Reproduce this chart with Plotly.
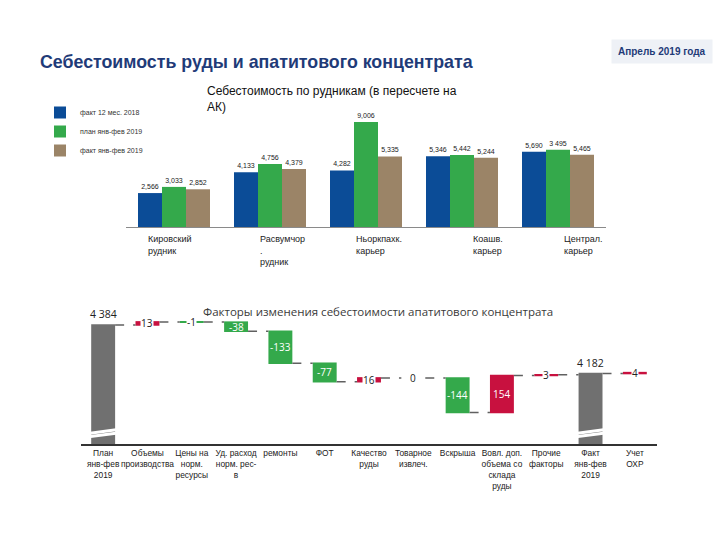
import plotly.graph_objects as go

# ---------------- top chart data ----------------
mines = ["Кировский рудник", "Расвумчор. рудник", "Ньоркпахк. карьер", "Коашв. карьер", "Централ. карьер"]
mine_labels = ["Кировский<br>рудник", "Расвумчор<br>.<br>рудник", "Ньоркпахк.<br>карьер", "Коашв.<br>карьер", "Централ.<br>карьер"]
series_names = ["факт 12 мес. 2018", "план янв-фев 2019", "факт янв-фев 2019"]
fact_2018 = [2566, 4133, 4282, 5346, 5690]
plan_2019 = [3033, 4756, 7950, 5442, 5850]
fact_2019 = [2852, 4379, 5335, 5244, 5465]
fact_2018_text = ["2,566", "4,133", "4,282", "5,346", "5,690"]
plan_2019_text = ["3,033", "4,756", "9,006", "5,442", "3 495"]
fact_2019_text = ["2,852", "4,379", "5,335", "5,244", "5,465"]

# ---------------- waterfall data ----------------
factors = ["План<br>янв-фев<br>2019", "Объемы<br>производства", "Цены на<br>норм.<br>ресурсы",
           "Уд. расход<br>норм. рес-<br>в", "ремонты", "ФОТ", "Качество<br>руды",
           "Товарное<br>извлеч.", "Вскрыша", "Вовл. доп.<br>объема со<br>склада<br>руды",
           "Прочие<br>факторы", "Факт<br>янв-фев<br>2019", "Учет<br>ОХР"]
measures = ["absolute", "relative", "relative", "relative", "relative", "relative", "relative",
            "relative", "relative", "relative", "relative", "absolute", "relative"]
factor_values = [4384, 13, -1, -38, -133, -77, 16, 0, -144, 154, 3, 4182, 4]

BLUE = "#0b4c97"
GREEN = "#34a94b"
BROWN = "#9b8467"

fig = go.Figure()

for name, vals, txt, col in zip(series_names, [fact_2018, plan_2019, fact_2019],
                                [fact_2018_text, plan_2019_text, fact_2019_text],
                                [BLUE, GREEN, BROWN]):
    fig.add_trace(go.Bar(
        x=mines, y=vals, name=name, marker=dict(color=col, line=dict(width=0)),
        text=txt, textposition="outside", textfont=dict(size=7, color="#222", family="Liberation Sans"),
        cliponaxis=False, xaxis="x", yaxis="y",
    ))

fig.add_trace(go.Waterfall(
    x=list(range(len(factors))), y=factor_values, measure=measures,
    xaxis="x2", yaxis="y2", showlegend=False, textposition="none",
    increasing=dict(marker=dict(color="#c8113f")),
    decreasing=dict(marker=dict(color=GREEN)),
    totals=dict(marker=dict(color="#707070")),
    connector=dict(line=dict(color="#606060", width=1.5, dash="dash")),
))

annotations = []
shapes = []

# waterfall labels derived from the data
level = 0
for i, (m, v) in enumerate(zip(measures, factor_values)):
    if m == "absolute":
        start, end = 0, v
        level = v
        annotations.append(dict(x=i, y=end, xref="x2", yref="y2", text=f"{v:,}".replace(",", " "),
                                showarrow=False, yanchor="bottom", yshift=2,
                                font=dict(size=10.5, color="#222", family="Open Sans")))
        # axis-break marks on the truncated total bars
        for dy in (0, 14):
            shapes.append(dict(type="line", xref="x2", yref="y2", x0=i - 0.42, x1=i + 0.42,
                               y0=3917 + dy, y1=3937 + dy, line=dict(color="white", width=3)))
    else:
        start, end = level, level + v
        level = end
        mid = (start + end) / 2
        if abs(v) >= 30:
            annotations.append(dict(x=i, y=mid, xref="x2", yref="y2", text=f"{v}", showarrow=False,
                                    font=dict(size=10, color="white", family="Open Sans")))
        else:
            annotations.append(dict(x=i, y=mid, xref="x2", yref="y2", text=f"{v}", showarrow=False,
                                    bgcolor="white", borderpad=0,
                                    font=dict(size=10, color="#222", family="Open Sans")))

# top chart category labels (left-aligned under groups)
label_shift = [-28, -12, -12, 9, 4]
for m, lab, sh in zip(mines, mine_labels, label_shift):
    annotations.append(dict(x=m, y=0, xref="x", yref="y", text=lab, showarrow=False,
                            xanchor="left", yanchor="top", align="left", xshift=sh, yshift=-5,
                            font=dict(size=9, color="#222", family="Liberation Sans")))

# titles
annotations += [
    dict(x=38 / 720, y=1 - 62 / 540, xref="paper", yref="paper", xanchor="left", yanchor="middle",
         text="<b>Себестоимость руды и апатитового концентрата</b>", showarrow=False,
         font=dict(size=17.8, color="#1f3b78", family="Liberation Sans")),
    dict(x=662 / 720, y=1 - 51 / 540, xref="paper", yref="paper", xanchor="center", yanchor="middle",
         text="<b>Апрель 2019 года</b>", showarrow=False, bgcolor="#eef1f6", borderpad=6,
         font=dict(size=10, color="#1f3b78", family="Liberation Sans")),
    dict(x=205 / 720, y=1 - 82 / 540, xref="paper", yref="paper", xanchor="left", yanchor="top",
         text="Себестоимость по рудникам (в пересчете на<br>АК)", showarrow=False, align="left",
         font=dict(size=12, color="#111", family="Liberation Sans")),
    dict(x=378 / 720, y=1 - 311 / 540, xref="paper", yref="paper", xanchor="center", yanchor="middle",
         text="Факторы изменения себестоимости апатитового концентрата", showarrow=False,
         font=dict(size=11.5, color="#3a3a3a", family="Open Sans")),
]

fig.update_layout(
    width=720, height=540, margin=dict(l=0, r=0, t=0, b=0),
    paper_bgcolor="white", plot_bgcolor="white",
    barmode="group", bargap=0.25, bargroupgap=0,
    waterfallgap=0.46,
    showlegend=True,
    legend=dict(x=40 / 720, y=1 - 98 / 540, xanchor="left", yanchor="top",
                font=dict(size=7, color="#333", family="Liberation Sans"),
                itemwidth=30, tracegroupgap=0, bgcolor="rgba(0,0,0,0)"),
    xaxis=dict(domain=[126 / 720, 606 / 720], anchor="y", showticklabels=False, ticks="",
               showline=True, linecolor="#8a8a8a", linewidth=1, showgrid=False),
    yaxis=dict(domain=[1 - 227 / 540, 1 - 108 / 540], anchor="x", range=[0, 9000],
               visible=False, showgrid=False),
    xaxis2=dict(domain=[81 / 720, 657 / 720], anchor="y2", tickmode="array",
                tickvals=list(range(len(factors))), ticktext=factors, range=[-0.5, len(factors) - 0.5],
                showline=True, linecolor="#333", linewidth=1.5, ticks="", showgrid=False,
                tickangle=0, automargin=False,
                tickfont=dict(size=8.4, color="#222", family="Liberation Sans")),
    yaxis2=dict(domain=[1 - 444 / 540, 1 - 300 / 540], anchor="x2", range=[3889, 4488],
                visible=False, showgrid=False),
    annotations=annotations,
    shapes=shapes,
)

fig.write_html("out.html")
